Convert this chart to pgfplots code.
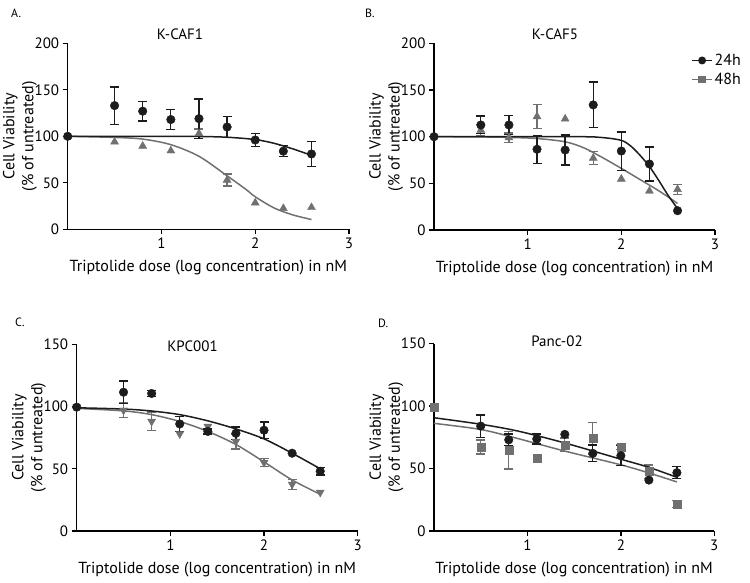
\documentclass[border=0pt]{standalone}
\usepackage{fontspec}
\setmainfont{PT Sans}
\usepackage{pgfplots}
\pgfplotsset{compat=1.18}
\definecolor{dk}{RGB}{28,28,28}
\definecolor{gy}{RGB}{112,112,112}
\pgfplotsset{
  gp/.style={
    scale only axis,
    axis x line*=bottom, axis y line*=left,
    axis line style={line width=1.3pt, -},
    tick align=outside, major tick length=5pt,
    every tick/.style={line width=1.3pt, black},
    xmin=0, xmax=3, xtick={1,2,3}, ymin=0,
    tick label style={font=\fontsize{15}{17}\selectfont},
    /pgf/number format/assume math mode=true,
    label style={font=\fontsize{16}{19}\selectfont},
    xlabel={Triptolide dose (log concentration) in nM},
    ylabel={Cell Viability\\(\% of untreated)},
    ylabel style={align=center, at={(axis description cs:-0.17,0.5)}, anchor=center},
    xlabel style={at={(axis description cs:0.5,0)}, yshift=-38.5pt, anchor=center},
    clip=false,
  },
  errs/.style={error bars/y dir=both, error bars/y explicit,
    error bars/error bar style={line width=1.3pt},
    error bars/error mark options={rotate=90, mark size=4.5pt, line width=1.3pt}},
  c24/.style={dk, only marks, mark=*, mark size=4.3pt, mark options={fill=dk, draw=dk}},
  tri/.style={gy, only marks, mark=triangle*, mark size=4.6pt, mark options={fill=gy, draw=gy}},
  itri/.style={gy, only marks, mark=triangle*, mark size=4.6pt, mark options={fill=gy, draw=gy, rotate=180}},
  sq/.style={gy, only marks, mark=square*, mark size=4pt, mark options={fill=gy, draw=gy}},
  fit24/.style={dk, line width=1.5pt, smooth, no marks},
  fit48/.style={gy, line width=1.5pt, smooth, no marks},
}
\begin{document}
\begin{tikzpicture}
\path[use as bounding box] (0,0) rectangle (750pt,582pt);
% ---------------- A ----------------
\begin{axis}[gp, at={(67.7pt,352.7pt)}, anchor=origin, width=281.3pt, height=186pt,
  ymax=200, ytick={0,50,100,150,200}]
\addplot[fit48] coordinates {(0,100) (0.5,98.8) (0.8,97) (1.1,91) (1.4,78.5) (1.7,57.5) (1.9,43) (2.0,35) (2.2,23) (2.4,15.5) (2.6,10.5)};
\addplot[tri] coordinates {(0,100) (0.5,94) (0.8,89.5) (1.1,84.5) (2.0,28.5) (2.3,22.5) (2.6,23.5)};
\addplot[tri, errs] coordinates {(1.4,103) +- (0,5) (1.7,53) +- (0,6.5)};
\addplot[fit24] coordinates {(0,100) (1.0,100) (1.4,99.8) (1.7,99) (2.0,96.5) (2.2,92.5) (2.4,86.5) (2.6,79.5)};
\addplot[c24] coordinates {(0,100)};
\addplot[c24, errs] coordinates {(0.5,133) +- (0,20) (0.8,127) +- (0,10.5) (1.1,118) +- (0,11) (1.4,119) +- (0,21) (1.7,110) +- (0,11) (2.0,96) +- (0,7) (2.3,84) +- (0,6) (2.6,81) +- (0,13.5)};
\end{axis}
% ---------------- B ----------------
\begin{axis}[gp, at={(434pt,352pt)}, anchor=origin, width=281pt, height=186.7pt,
  ymax=200, ytick={0,50,100,150,200},
  legend style={draw=none, fill=none, at={(axis description cs:0.905,0.965)}, anchor=north west,
    font=\fontsize{16}{18}\selectfont, legend cell align=left, row sep=2pt},
  legend image code/.code={\draw[mark repeat=2,mark phase=2] plot coordinates {(0cm,0cm) (0.35cm,0cm) (0.7cm,0cm)};}]
\addlegendimage{dk, line width=1.3pt, mark=*, mark size=3.3pt}
\addlegendentry{24h}
\addlegendimage{gy, line width=1.3pt, mark=square*, mark size=3pt}
\addlegendentry{48h}
\addplot[fit48, forget plot] coordinates {(0,100) (0.5,99.7) (0.8,99.2) (1.1,98) (1.4,94.5) (1.6,88) (1.8,77.5) (2.0,66) (2.2,54) (2.4,42) (2.6,28.5)};
\addplot[tri, forget plot] coordinates {(1.4,119) (2.0,54.6) (2.3,41.8)};
\addplot[tri, errs, forget plot] coordinates {(0.5,107) +- (0,6) (0.8,99) +- (0,5) (1.1,121.5) +- (0,13) (1.7,77) +- (0,7) (2.6,43.5) +- (0,5.5)};
\addplot[fit24, forget plot] coordinates {(0,100) (1.5,100) (1.8,99) (2.0,96) (2.1,90) (2.2,80) (2.3,68) (2.4,53) (2.5,37) (2.6,23)};
\addplot[c24, forget plot] coordinates {(0,100) (2.6,20.7)};
\addplot[c24, errs, forget plot] coordinates {(0.5,112.5) +- (0,9.5) (0.8,112.5) +- (0,10) (1.1,86.5) +- (0,15) (1.4,85.7) +- (0,16) (1.7,134) +- (0,24.5) (2.0,84.6) +- (0,20.5) (2.3,70.7) +- (0,18.3)};
\end{axis}
% ---------------- C ----------------
\begin{axis}[gp, at={(76.7pt,51pt)}, anchor=origin, width=281pt, height=186.7pt,
  ymax=150, ytick={0,50,100,150}]
\addplot[fit48] coordinates {(0,98.5) (0.5,96.5) (0.8,93.5) (1.1,88) (1.4,80) (1.7,69.5) (2.0,55.5) (2.3,41) (2.6,29.5)};
\addplot[itri] coordinates {(0,99.5) (1.1,78) (1.4,84) (2.6,31)};
\addplot[itri, errs] coordinates {(0.5,97) +- (0,6) (0.8,88) +- (0,7.5) (1.7,72) +- (0,6) (2.0,55) +- (0,3) (2.3,37.5) +- (0,4)};
\addplot[fit24] coordinates {(0,99) (0.5,98) (0.8,96.4) (1.1,93.5) (1.4,88.5) (1.7,82) (2.0,74) (2.3,62.5) (2.6,50)};
\addplot[c24] coordinates {(0,99.5) (2.3,62.5)};
\addplot[c24, errs] coordinates {(0.5,111.5) +- (0,9) (0.8,110.5) +- (0,2.5) (1.1,86) +- (0,6) (1.4,80) +- (0,2) (1.7,78.5) +- (0,5) (2.0,81) +- (0,6.5) (2.6,48) +- (0,3)};
\end{axis}
% ---------------- D ----------------
\begin{axis}[gp, at={(434pt,51pt)}, anchor=origin, width=280.3pt, height=187.3pt,
  ymax=150, ytick={0,50,100,150}]
\addplot[fit48] coordinates {(0,86.2) (0.5,81.3) (0.9,74) (1.4,64) (2.0,53) (2.3,46.5) (2.6,39.3)};
\addplot[sq] coordinates {(0,99.5) (1.1,58.2)};
\addplot[sq, errs] coordinates {(0.5,67.3) +- (0,5.6) (0.8,64.6) +- (0,15) (1.4,68.9) +- (0,5.5) (1.7,74.2) +- (0,12.5) (2.0,67.5) +- (0,2) (2.3,47.5) +- (0,5.3) (2.6,21.6) +- (0,3)};
\addplot[fit24] coordinates {(0,90.7) (0.5,85.5) (0.9,80) (1.4,70.5) (2.0,57.5) (2.3,51) (2.6,43)};
\addplot[c24] coordinates {(1.4,77.4) (2.3,40.8)};
\addplot[c24, errs] coordinates {(0.5,84) +- (0,9) (0.8,73) +- (0,4.6) (1.1,73.7) +- (0,4) (1.7,62.2) +- (0,6.7) (2.0,60.3) +- (0,8) (2.6,46.7) +- (0,4.8)};
\end{axis}
% titles and panel letters
\begin{scope}[every node/.style={font=\fontsize{15}{17}\selectfont, inner sep=0pt}]
\node at (180pt,548pt) {K-CAF1};
\node at (555pt,548pt) {K-CAF5};
\node at (192.5pt,236pt) {KPC001};
\node at (557pt,241pt) {Panc-02};
\end{scope}
\begin{scope}[every node/.style={font=\fontsize{12}{14}\selectfont, inner sep=0pt}]
\node[anchor=west] at (11pt,569pt) {A.};
\node[anchor=west] at (365pt,569pt) {B.};
\node[anchor=west] at (15pt,260pt) {C.};
\node[anchor=west] at (378pt,259pt) {D.};
\end{scope}
\end{tikzpicture}
\end{document}
